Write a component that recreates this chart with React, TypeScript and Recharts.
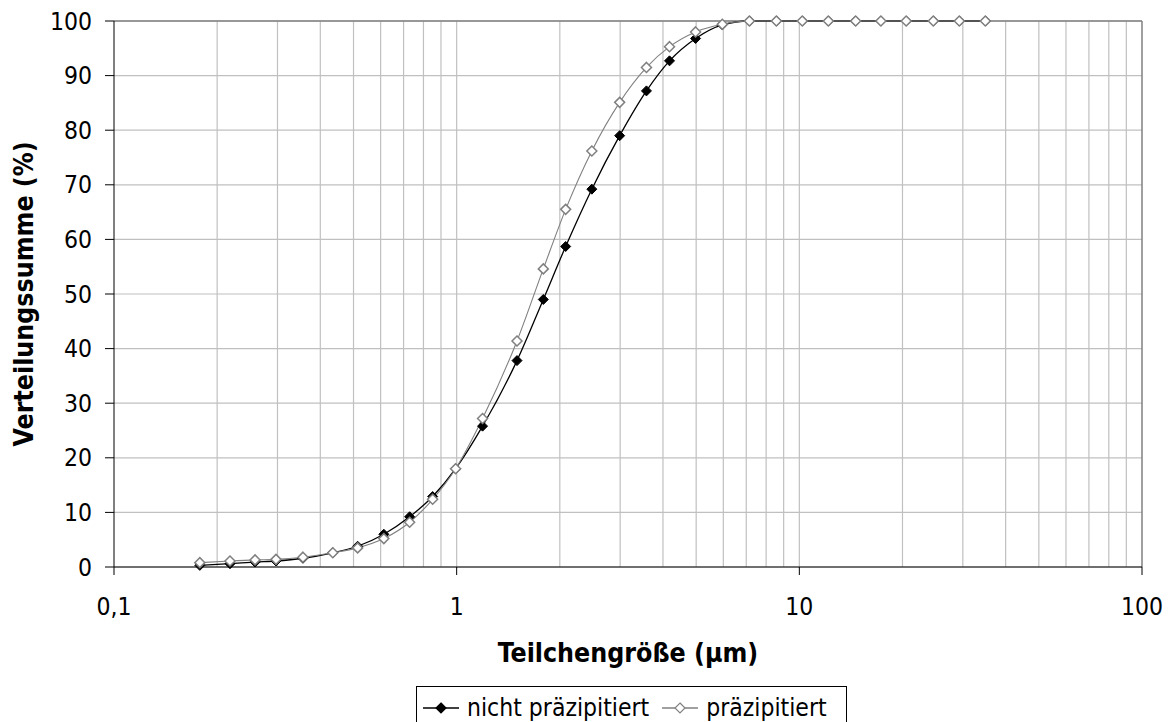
import React from "react";
import {
  LineChart,
  Line,
  XAxis,
  YAxis,
  CartesianGrid,
  ReferenceLine,
  Label,
} from "recharts";

// particle size classes (µm)
const sizes = [
  0.178, 0.218, 0.258, 0.297, 0.356, 0.435, 0.514, 0.613, 0.729, 0.851, 0.993,
  1.19, 1.5, 1.79, 2.08, 2.48, 2.99, 3.58, 4.18, 4.98, 5.96, 7.15, 8.57, 10.2,
  12.15, 14.6, 17.3, 20.5, 24.6, 29.3, 34.9,
];

// cumulative distribution (%)
const nichtPraezipitiert = [
  0.3, 0.6, 0.9, 1.1, 1.6, 2.6, 3.8, 6.0, 9.2, 12.9, 18.0, 25.8, 37.8, 49.0,
  58.7, 69.2, 79.0, 87.2, 92.7, 96.8, 99.3, 100, 100, 100, 100, 100, 100, 100,
  100, 100, 100,
];

const praezipitiert = [
  0.8, 1.1, 1.3, 1.4, 1.8, 2.6, 3.5, 5.2, 8.2, 12.4, 18.0, 27.2, 41.4, 54.6,
  65.5, 76.2, 85.1, 91.5, 95.3, 98.0, 99.4, 100, 100, 100, 100, 100, 100, 100,
  100, 100, 100,
];

const xTicks = [0.1, 1, 10, 100];
const yTicks = [0, 10, 20, 30, 40, 50, 60, 70, 80, 90, 100];
const minorX = [
  0.2, 0.3, 0.4, 0.5, 0.6, 0.7, 0.8, 0.9, 1, 2, 3, 4, 5, 6, 7, 8, 9, 10, 20,
  30, 40, 50, 60, 70, 80, 90,
];

const data = sizes.map((x, i) => ({
  x,
  nicht: nichtPraezipitiert[i],
  praez: praezipitiert[i],
}));

const FONT = '"DejaVu Sans Condensed", "DejaVu Sans", sans-serif';
const GRID = "#c0c0c0";
const BORDER = "#808080";

function diamond(fill: string, stroke: string, strokeWidth: number) {
  return (props: any) => {
    const { cx, cy, index } = props;
    if (cx == null || cy == null) return <g key={index} />;
    const r = 5;
    return (
      <path
        key={index}
        d={`M${cx},${cy - r}L${cx + r},${cy}L${cx},${cy + r}L${cx - r},${cy}Z`}
        fill={fill}
        stroke={stroke}
        strokeWidth={strokeWidth}
      />
    );
  };
}

function LegendSymbol({ fill, stroke }: { fill: string; stroke: string }) {
  return (
    <svg width={36} height={20} style={{ display: "block" }}>
      <line x1={0} y1={10} x2={36} y2={10} stroke={stroke} strokeWidth={1.3} />
      <path
        d="M18,5L23,10L18,15L13,10Z"
        fill={fill}
        stroke={stroke}
        strokeWidth={1.2}
      />
    </svg>
  );
}

export default function App() {
  return (
    <div
      style={{
        position: "absolute",
        left: 0,
        top: 0,
        width: 1172,
        height: 722,
        overflow: "hidden",
        background: "#fff",
      }}
    >
      <LineChart
        width={1172}
        height={722}
        data={data}
        margin={{ top: 21, right: 30, bottom: 95, left: 0 }}
      >
        <CartesianGrid stroke={GRID} vertical={false} strokeWidth={1.2} />
        {minorX.map((v) => (
          <ReferenceLine key={v} x={v} stroke={GRID} strokeWidth={1.2} />
        ))}
        <ReferenceLine x={100} stroke={BORDER} strokeWidth={1.5} />
        <ReferenceLine y={100} stroke={BORDER} strokeWidth={1.5} />
        <XAxis
          dataKey="x"
          type="number"
          scale="log"
          domain={[0.1, 100]}
          ticks={xTicks}
          allowDataOverflow
          height={60}
          stroke="#000"
          tickSize={8}
          tickMargin={23}
          tick={{ fontSize: 24.5, fill: "#000", fontFamily: FONT }}
          tickFormatter={(v: number) => String(v).replace(".", ",")}
        >
          <Label
            content={() => (
              <text
                x={628}
                y={662}
                textAnchor="middle"
                fontFamily={FONT}
                fontWeight="bold"
                fontSize={26.5}
                fill="#000"
              >
                Teilchengröße (µm)
              </text>
            )}
          />
        </XAxis>
        <YAxis
          type="number"
          domain={[0, 100]}
          ticks={yTicks}
          width={114}
          stroke="#000"
          tickSize={9}
          tickMargin={13}
          tick={{ fontSize: 24.5, fill: "#000", fontFamily: FONT }}
        >
          <Label
            content={() => (
              <text
                x={33}
                y={294}
                transform="rotate(-90, 33, 294)"
                textAnchor="middle"
                fontFamily={FONT}
                fontWeight="bold"
                fontSize={26.5}
                fill="#000"
              >
                Verteilungssumme (%)
              </text>
            )}
          />
        </YAxis>
        <Line
          dataKey="nicht"
          type="monotone"
          stroke="#000"
          strokeWidth={1.3}
          dot={diamond("#000", "#000", 1)}
          isAnimationActive={false}
        />
        <Line
          dataKey="praez"
          type="monotone"
          stroke={BORDER}
          strokeWidth={1.1}
          dot={diamond("#fff", BORDER, 1.5)}
          isAnimationActive={false}
        />
      </LineChart>
      <div
        style={{
          position: "absolute",
          left: 416,
          top: 686,
          width: 431,
          height: 50,
          border: "1px solid #000",
          boxSizing: "border-box",
          display: "flex",
          alignItems: "flex-start",
          paddingTop: 7,
          paddingLeft: 6,
          fontFamily: FONT,
          fontSize: 24.5,
          lineHeight: "28px",
          color: "#000",
          whiteSpace: "nowrap",
        }}
      >
        <div style={{ marginTop: 4 }}>
          <LegendSymbol fill="#000" stroke="#000" />
        </div>
        <span style={{ marginLeft: 8 }}>nicht präzipitiert</span>
        <div style={{ marginTop: 4, marginLeft: 13 }}>
          <LegendSymbol fill="#fff" stroke={BORDER} />
        </div>
        <span style={{ marginLeft: 8 }}>präzipitiert</span>
      </div>
    </div>
  );
}
